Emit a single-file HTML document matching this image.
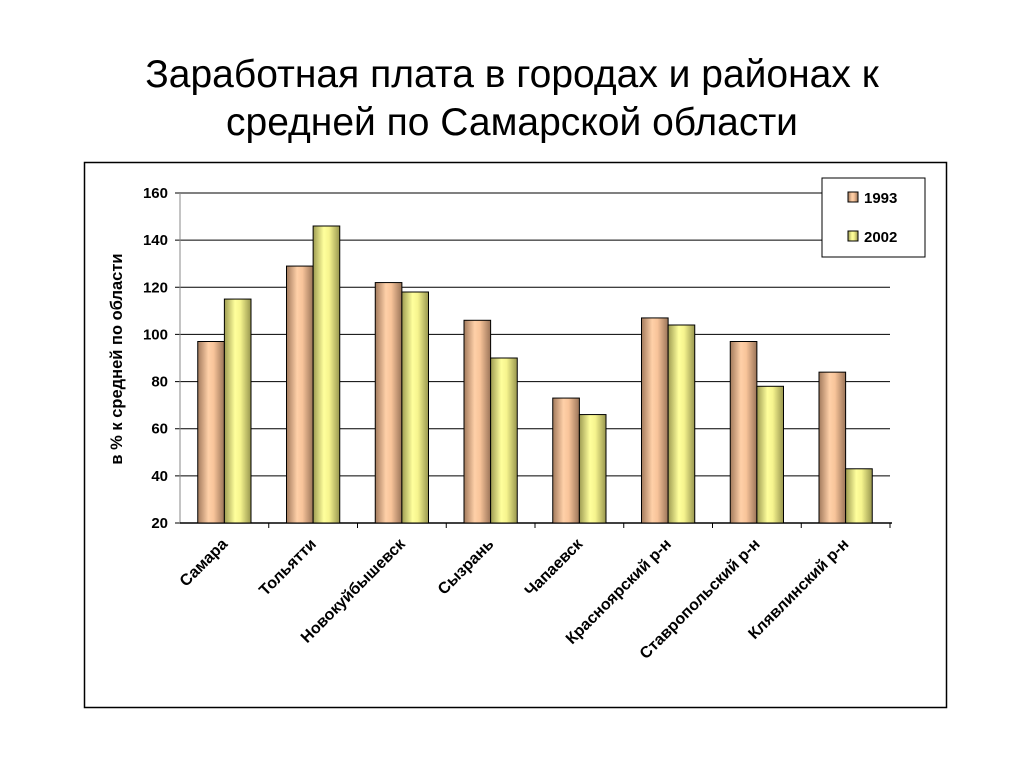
<!DOCTYPE html>
<html><head><meta charset="utf-8"><style>
body{margin:0;background:#fff;width:1024px;height:768px;overflow:hidden;font-family:"Liberation Sans",sans-serif}
#title{position:absolute;left:0;top:51px;width:1024px;text-align:center;font-size:39px;line-height:48px;color:#000}
</style></head><body>
<div id="title">Заработная плата в городах и районах к<br>средней по Самарской области</div>
<svg id="chart" width="1024" height="768" style="position:absolute;left:0;top:0" xmlns="http://www.w3.org/2000/svg">
<defs>
<linearGradient id="g1" x1="0" x2="1" y1="0" y2="0"><stop offset="0" stop-color="#a27a5c"/><stop offset="0.4" stop-color="#ffd0a8"/><stop offset="0.6" stop-color="#f8c49a"/><stop offset="1" stop-color="#9a7458"/></linearGradient>
<linearGradient id="g2" x1="0" x2="1" y1="0" y2="0"><stop offset="0" stop-color="#9e9c52"/><stop offset="0.4" stop-color="#ffff9c"/><stop offset="0.6" stop-color="#f6f48e"/><stop offset="1" stop-color="#98964e"/></linearGradient>
</defs>
<rect x="84.5" y="162.5" width="862" height="545" fill="none" stroke="#000" stroke-width="1.5"/>
<g id="plot"></g>
</svg>
<script>
const categories=["Самара","Тольятти","Новокуйбышевск","Сызрань","Чапаевск","Красноярский р-н","Ставропольский р-н","Клявлинский р-н"];
const s1993=[97,129,122,106,73,107,97,84];
const s2002=[115,146,118,90,66,104,78,43];
const yTicks=[20,40,60,80,100,120,140,160];
const X0=180,X1=890,Y0=523,Y1=193,YMIN=20,YMAX=160;
const y=v=>Y0-(v-YMIN)/(YMAX-YMIN)*(Y0-Y1);
const bw=(X1-X0)/categories.length;
const g=document.getElementById('plot');
const NS='http://www.w3.org/2000/svg';
function mk(t,a){const e=document.createElementNS(NS,t);for(const k in a)e.setAttribute(k,a[k]);g.appendChild(e);return e;}
yTicks.forEach(v=>{
 const l=mk('line',{x1:X0-5,x2:X1,y1:y(v),y2:y(v),stroke:'#000','stroke-width':1});
 
 
 const t=mk('text',{x:X0-12,y:y(v)+5,'text-anchor':'end','font-size':15,'font-weight':'bold'});
 t.textContent=v;
 
 
});
const ax=mk('line',{x1:X0,x2:X0,y1:Y1,y2:Y0,stroke:'#888','stroke-width':1});


const xa=mk('line',{x1:X0,x2:X1+2,y1:Y0,y2:Y0,stroke:'#000','stroke-width':1.5});


categories.forEach((c,i)=>{
 const tx=X0+bw*(i+1);
 const tk=mk('line',{x1:tx,x2:tx,y1:Y0,y2:Y0+5,stroke:'#000'});
 
 
 const bx=X0+bw*i+bw*0.2, w=bw*0.3;
 [[s1993,'g1','1993'],[s2002,'g2','2002']].forEach((s,j)=>{
  const r=mk('rect',{x:bx+j*w,y:y(s[0][i]),width:w,height:Y0-y(s[0][i]),fill:'url(#'+s[1]+')',stroke:'#000','stroke-width':1});
  
  
 });
 const cx=X0+bw*(i+0.5)+4, cy=Y0+22;
 const t=mk('text',{x:cx,y:cy,'text-anchor':'end','font-size':16,'font-weight':'bold',transform:`rotate(-45 ${cx} ${cy})`});
 t.textContent=c;
 
 
});
const yt=mk('text',{x:122,y:359,'text-anchor':'middle','font-size':16.5,'font-weight':'bold',transform:'rotate(-90 122 359)'});
yt.textContent='в % к средней по области';


const lb=mk('rect',{x:822,y:178,width:103,height:79,fill:'#fff',stroke:'#000','stroke-width':1});


[['g1','1993',198],['g2','2002',237]].forEach(L=>{
 const r=mk('rect',{x:848,y:L[2]-6,width:10,height:10,fill:'url(#'+L[0]+')',stroke:'#000'});
 
 
 const t=mk('text',{x:864,y:L[2]+5,'font-size':15,'font-weight':'bold'});
 t.textContent=L[1];
 
 
});
</script>
</body></html>
